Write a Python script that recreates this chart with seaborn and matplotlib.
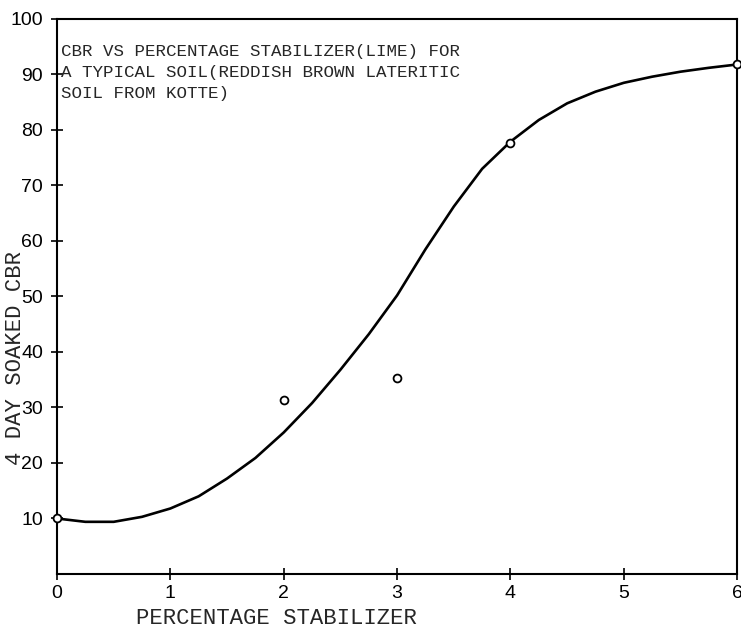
import seaborn as sns
import matplotlib.pyplot as plt
import pandas as pd

# Smooth curve (percentage lime vs 4 day soaked CBR)
curve_x = [0, 0.25, 0.5, 0.75, 1.0, 1.25, 1.5, 1.75, 2.0, 2.25, 2.5, 2.75, 3.0,
           3.25, 3.5, 3.75, 4.0, 4.25, 4.5, 4.75, 5.0, 5.25, 5.5, 5.75, 6.0]
curve_y = [10, 9.4, 9.4, 10.3, 11.8, 14.0, 17.2, 20.9, 25.5, 30.8, 36.8, 43.2, 50.2,
           58.5, 66.2, 73.0, 77.9, 81.8, 84.8, 86.9, 88.5, 89.6, 90.5, 91.2, 91.8]

# Measured test points
test_x = [0, 2, 3, 4, 6]
test_y = [10, 31.3, 35.4, 77.6, 91.8]

x_ticks = [0, 1, 2, 3, 4, 5, 6]
y_ticks = [10, 20, 30, 40, 50, 60, 70, 80, 90, 100]

note = ("CBR VS PERCENTAGE STABILIZER(LIME) FOR\n"
        "A TYPICAL SOIL(REDDISH BROWN LATERITIC\n"
        "SOIL FROM KOTTE)")

sns.set_style("ticks")
plt.rcParams['font.family'] = ['Liberation Sans', 'DejaVu Sans']

curve = pd.DataFrame({"pct": curve_x, "cbr": curve_y})
points = pd.DataFrame({"pct": test_x, "cbr": test_y})

fig = plt.figure(figsize=(7.41, 6.30), dpi=100)
ax = fig.add_axes([0.0769, 0.0889, 0.918, 0.881])

sns.lineplot(data=curve, x="pct", y="cbr", ax=ax, color="black", linewidth=1.9)
sns.scatterplot(data=points, x="pct", y="cbr", ax=ax, marker="o", s=32,
                facecolor="white", edgecolor="black", linewidth=1.3, zorder=5,
                clip_on=False)

ax.set_xlim(0, 6)
ax.set_ylim(0, 100)
ax.set_xticks(x_ticks)
ax.set_yticks(y_ticks)
ax.tick_params(direction="inout", length=8, width=1.2, labelsize=14, pad=6,
               colors="black")
ax.tick_params(axis="x", pad=4)

for side in ["left", "right", "top", "bottom"]:
    ax.spines[side].set_visible(True)
    ax.spines[side].set_color("black")
    ax.spines[side].set_linewidth(1.5)

mono = ["Liberation Mono", "DejaVu Sans Mono"]
ax.set_xlabel("PERCENTAGE STABILIZER", family=mono, fontsize=16)
ax.xaxis.set_label_coords(0.323, -0.062)
ax.set_ylabel("4 DAY SOAKED CBR", family=mono, fontsize=16)
ax.yaxis.set_label_coords(-0.046, 0.39)

ax.text(0.006, 0.955, note, transform=ax.transAxes, family=mono, fontsize=12.6,
        va="top", ha="left", linespacing=1.5)

fig.savefig("out.png", dpi=100, facecolor="white")
